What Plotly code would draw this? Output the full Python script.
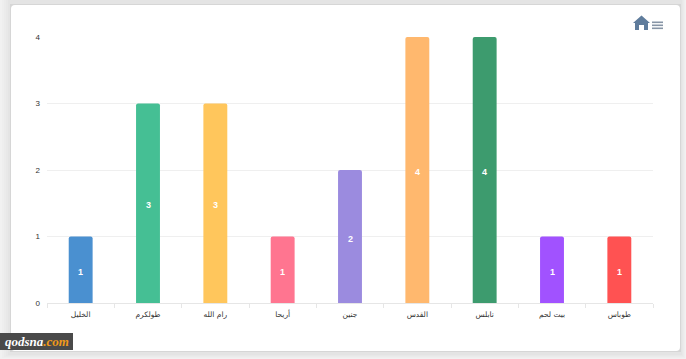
import plotly.graph_objects as go

categories = ["الخلیل", "طولکرم", "رام الله", "أریحا", "جنین", "القدس", "نابلس", "بیت لحم", "طوباس"]
values = [1, 3, 3, 1, 2, 4, 4, 1, 1]
colors = ["#4a90d0", "#45bf94", "#ffc65c", "#ff7590", "#9b8bdf", "#ffb86e", "#3d9b6e", "#a152ff", "#ff5252"]
y_ticks = [0, 1, 2, 3, 4]

W, H = 686, 359
L, R, T, B = 47, 653, 37, 303

def px(x):
    return (x - L) / (R - L)

def py(y):
    return (B - y) / (B - T)

def rect(x0, y0, x1, y1, fill, layer="below"):
    return dict(type="rect", xref="paper", yref="paper", x0=px(x0), x1=px(x1), y0=py(y1), y1=py(y0),
                fillcolor=fill, line_width=0, layer=layer)

def path(points, fill, layer="above"):
    d = "M " + " L ".join(f"{px(a):.5f},{py(b):.5f}" for a, b in points) + " Z"
    return dict(type="path", xref="paper", yref="paper", path=d, fillcolor=fill, line_width=0, layer=layer)

shapes = []
# page background and soft card shadow, built outwards-in
shapes.append(rect(0, 0, W, H, "#f4f4f4"))
for i, g in enumerate(["#f1f1f1", "#eeeeee", "#ebebeb", "#e8e8e8", "#e4e4e4"]):
    shapes.append(rect(2 * i, 0, 686 - i, 359 - i, g))
shapes.append(rect(10, 4, 681, 352, "#d6d6d6"))
# card
c0, c1, d0, d1, r = 11, 680, 5, 351, 4
card = (f"M {px(c0+r):.5f},{py(d0):.5f} L {px(c1-r):.5f},{py(d0):.5f} "
        f"Q {px(c1):.5f},{py(d0):.5f} {px(c1):.5f},{py(d0+r):.5f} "
        f"L {px(c1):.5f},{py(d1-r):.5f} Q {px(c1):.5f},{py(d1):.5f} {px(c1-r):.5f},{py(d1):.5f} "
        f"L {px(c0+r):.5f},{py(d1):.5f} Q {px(c0):.5f},{py(d1):.5f} {px(c0):.5f},{py(d1-r):.5f} "
        f"L {px(c0):.5f},{py(d0+r):.5f} Q {px(c0):.5f},{py(d0):.5f} {px(c0+r):.5f},{py(d0):.5f} Z")
shapes.append(dict(type="path", xref="paper", yref="paper", path=card, fillcolor="#ffffff",
                   line_width=0, layer="below"))
# home icon
shapes.append(path([(633, 23), (641.5, 15.5), (650, 23), (648, 23), (648, 30), (644, 30), (644, 25),
                    (639, 25), (639, 30), (635, 30), (635, 23)], "#5f7c9c"))
# menu icon
for y in (21.5, 24.5, 27.5):
    shapes.append(rect(652, y, 663, y + 1.6, "#8795a6", "above"))
# watermark
shapes.append(rect(0, 333, 73, 350, "#4a4a4a", "above"))

fig = go.Figure(go.Bar(
    x=categories, y=values, marker=dict(color=colors, line_width=0, cornerradius=2),
    hoverinfo="skip",
))
annotations = [
    dict(x=c, y=v / 2, yshift=-2, text=f"<b>{v}</b>", showarrow=False,
         font=dict(color="white", size=9, family="Liberation Sans"))
    for c, v in zip(categories, values)
]
annotations.append(
    dict(xref="paper", yref="paper", x=px(3), y=py(341.5), xanchor="left", yanchor="middle", showarrow=False,
         text="<b><i>qodsna<span style='color:#f09a1a'>.com</span></i></b>",
         font=dict(family="Liberation Serif", size=13, color="#ffffff")))
fig.update_layout(
    width=W, height=H, margin=dict(l=L, r=W - R, t=T, b=H - B),
    paper_bgcolor="#ffffff", plot_bgcolor="rgba(0,0,0,0)", showlegend=False, bargap=0.645,
    font=dict(family="Liberation Sans, DejaVu Sans", size=9, color="#333333"),
    shapes=shapes, annotations=annotations,
    xaxis=dict(tickson="boundaries", ticks="outside", ticklen=4, tickcolor="#e6e6e6", linecolor="#e6e6e6",
               showline=True, showgrid=False, tickangle=0, ticklabelstandoff=4,
               tickfont=dict(size=7.5, family="DejaVu Sans", color="#333333"), fixedrange=True),
    yaxis=dict(range=[0, 4], tickvals=y_ticks, gridcolor="#efefef", zeroline=False, showline=False, ticks="",
               ticklabelstandoff=6, tickfont=dict(size=8, color="#333333"), fixedrange=True),
)
fig.write_html("out.html", config=dict(displayModeBar=False),
               post_script="document.body.style.margin='0';")
